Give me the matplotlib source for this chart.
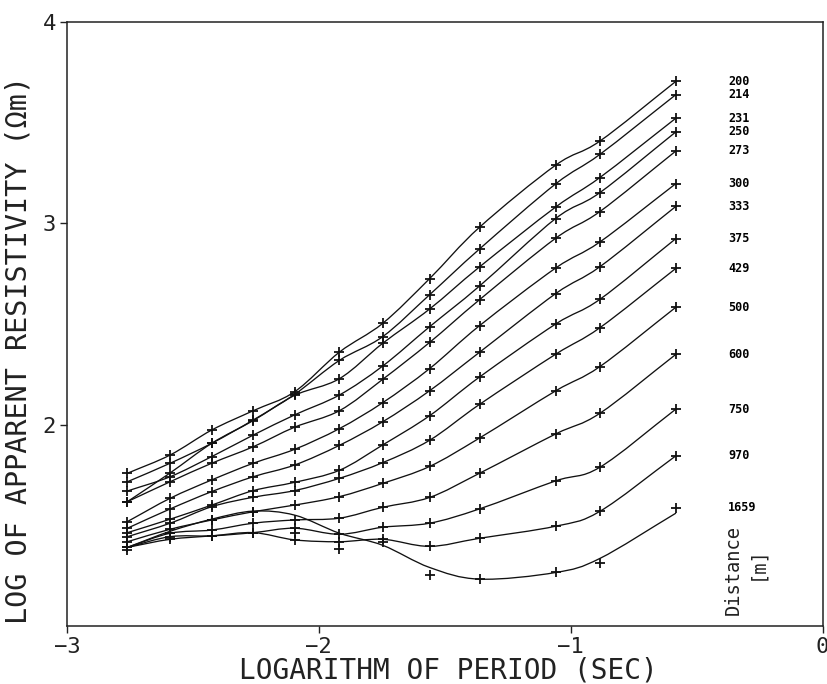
import numpy as np
import matplotlib
matplotlib.use('Agg')
import matplotlib.pyplot as plt
from matplotlib.path import Path
from matplotlib.patches import PathPatch

# log10 of period (sec) at which each sounding was read
log_period = [-2.76, -2.59, -2.425, -2.26, -2.096, -1.918, -1.746, -1.56, -1.362, -1.06, -0.884, -0.582]

distances = ['200', '214', '231', '250', '273', '300', '333', '375', '429', '500', '600', '750', '970', '1659']

# log apparent resistivity, one list per distance (measured points)
rho_200 = [1.758, 1.849, 1.973, 2.069, 2.163, 2.360, 2.503, 2.725, 2.980, 3.288, 3.408, 3.705]
rho_214 = [1.716, 1.808, 1.907, 2.023, 2.150, 2.319, 2.437, 2.645, 2.872, 3.195, 3.342, 3.639]
rho_231 = [1.617, 1.760, 1.907, 2.020, 2.145, 2.228, 2.404, 2.574, 2.783, 3.080, 3.227, 3.522]
rho_250 = [1.670, 1.741, 1.841, 1.948, 2.048, 2.147, 2.291, 2.486, 2.688, 3.023, 3.152, 3.454]
rho_273 = [1.617, 1.716, 1.808, 1.890, 1.987, 2.069, 2.225, 2.408, 2.620, 2.925, 3.058, 3.359]
rho_300 = [1.518, 1.634, 1.725, 1.808, 1.877, 1.980, 2.109, 2.278, 2.491, 2.777, 2.907, 3.197]
rho_333 = [1.485, 1.581, 1.667, 1.741, 1.799, 1.897, 2.014, 2.168, 2.359, 2.650, 2.784, 3.084]
rho_375 = [1.463, 1.530, 1.600, 1.672, 1.713, 1.773, 1.899, 2.044, 2.236, 2.499, 2.622, 2.924]
rho_429 = [1.443, 1.510, 1.592, 1.639, 1.672, 1.733, 1.811, 1.922, 2.100, 2.349, 2.481, 2.776]
rho_500 = [1.418, 1.480, 1.526, 1.567, 1.600, 1.642, 1.708, 1.792, 1.933, 2.167, 2.288, 2.583]
rho_600 = [1.390, 1.460, 1.476, 1.510, 1.526, 1.535, 1.589, 1.638, 1.758, 1.953, 2.056, 2.349]
rho_750 = [1.390, 1.443, 1.447, 1.463, 1.485, 1.455, 1.490, 1.510, 1.581, 1.720, 1.788, 2.077]
rho_970 = [1.390, 1.430, 1.447, 1.463, 1.427, 1.418, 1.430, 1.395, 1.435, 1.495, 1.569, 1.845]
rho_1659 = [1.375, 1.460, 1.526, 1.567, 1.460, 1.383, 1.415, 1.253, 1.232, 1.269, 1.312, 1.587]

# smoothed curve for 1659 m (does not pass through its points)
fit_1659 = [1.390, 1.470, 1.530, 1.570, 1.550, 1.460, 1.400, 1.290, 1.232, 1.265, 1.335, 1.560]

points = [rho_200, rho_214, rho_231, rho_250, rho_273, rho_300, rho_333,
          rho_375, rho_429, rho_500, rho_600, rho_750, rho_970, rho_1659]
curves = points[:-1] + [fit_1659]

MONO = 'DejaVu Sans Mono'


def smooth(xs, ys):
    # catmull-rom through the points, drawn as cubic bezier pieces
    p = np.column_stack([xs, ys])
    n = len(p)
    tang = np.zeros_like(p)
    tang[0] = p[1] - p[0]
    tang[-1] = p[-1] - p[-2]
    tang[1:-1] = (p[2:] - p[:-2]) / 2.0
    verts = [tuple(p[0])]
    codes = [Path.MOVETO]
    for i in range(n - 1):
        verts += [tuple(p[i] + tang[i] / 3.0), tuple(p[i + 1] - tang[i + 1] / 3.0), tuple(p[i + 1])]
        codes += [Path.CURVE4] * 3
    return Path(verts, codes)


fig = plt.figure(figsize=(8.27, 6.84), dpi=100)
ax = fig.add_axes([0.081, 0.085, 0.9136, 0.883])

for pts, crv, lab in zip(points, curves, distances):
    ax.add_patch(PathPatch(smooth(log_period, crv), facecolor='none',
                           edgecolor='#111111', linewidth=0.95, zorder=3))
    ax.plot(log_period, pts, linestyle='none', marker='+', markersize=7.5,
            markeredgewidth=1.3, color='#111111', zorder=4)
    ax.text(-0.375, pts[-1], lab, family=MONO, fontweight='bold',
            fontsize=8.5, va='center', ha='left')

ax.text(-0.355, 1.5, 'Distance', rotation=90, family=MONO,
        fontsize=13.5, va='top', ha='center', color='#222222')
ax.text(-0.26, 1.31, '[m]', rotation=90, family=MONO,
        fontsize=13.5, va='center', ha='center', color='#222222')

ax.set_xlim(-3, 0)
ax.set_ylim(1, 4)
ax.set_xticks([-3, -2, -1, 0])
ax.set_xticklabels(['\u22123', '\u22122', '\u22121', '0'], family=MONO)
ax.set_yticks([2, 3, 4])
ax.set_yticklabels(['2', '3', '4'], family=MONO)
ax.tick_params(labelsize=16, length=5, width=1.0, direction='out', pad=3,
               colors='#222222')

for s in ax.spines.values():
    s.set_linewidth(1.1)
    s.set_color('#222222')

ax.set_xlabel('LOGARITHM OF PERIOD (SEC)', fontsize=20, family=MONO, color='#222222')
ax.set_ylabel('LOG OF APPARENT RESISTIVITY (\u03a9m)', fontsize=20.5, family=MONO, color='#222222')
ax.xaxis.set_label_coords(0.505, -0.05)
ax.yaxis.set_label_coords(-0.046, 0.457)

fig.savefig('out.png', dpi=100)
